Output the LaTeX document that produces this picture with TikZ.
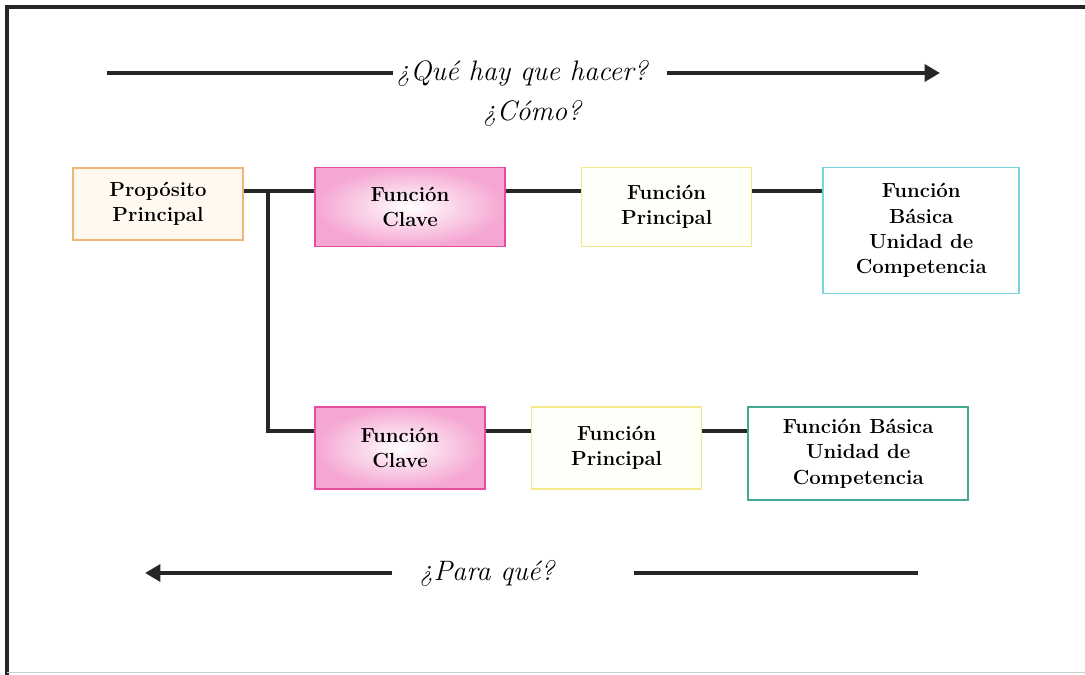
\documentclass[tikz,border=0pt]{standalone}
\usepackage{tikz}
\usepackage{xcolor}
\usetikzlibrary{positioning,arrows.meta}

\definecolor{naranja}{HTML}{F0B577}
\definecolor{crema}{HTML}{FFF9F0}
\definecolor{fucsia}{HTML}{E64C9E}
\definecolor{rosa}{HTML}{F5A6D2}
\definecolor{amarillo}{HTML}{F3E88C}
\definecolor{celeste}{HTML}{78D6E0}
\definecolor{verdeagua}{HTML}{45A893}

\begin{document}
\begin{tikzpicture}[x=0.025cm, y=-0.025cm]
  \tikzset{
    caja/.style={draw, rectangle, line width=1.1pt, align=center, inner sep=0pt, font=\fontsize{14.5}{18}\selectfont\bfseries},
    proposito/.style={caja, draw=naranja, fill=crema, minimum width=4.25cm, minimum height=1.8cm},
    clave/.style={caja, draw=fucsia, inner color=white, outer color=rosa, minimum width=4.25cm, minimum height=2.05cm},
    principal/.style={caja, draw=amarillo, fill=yellow!2, minimum width=4.25cm, minimum height=2.05cm},
    basica/.style={caja, draw=celeste, fill=white, minimum width=4.9cm, minimum height=3.15cm},
    enlace/.style={line width=2.2pt, black!85},
    linea/.style={line width=3pt, black!85},
    flecha/.style={linea, -{Triangle[length=11pt, width=12pt]}},
    pregunta/.style={font=\fontsize{20}{24}\selectfont\itshape, inner sep=2pt}
  }
  \useasboundingbox (0,0) rectangle (1085,675);

  % marco
  \draw[line width=3pt, black!85] (7,675) -- (7,7) -- (1085,7);
  \draw[line width=0.6pt, black!20] (7,672) -- (1085,672);

  % fila superior
  \node[proposito] (prop) at (158,204) {Propósito\\Principal};
  \node[clave, minimum width=4.75cm, minimum height=1.975cm] (clave1) at (410,207) {Función\\Clave};
  \node[principal, minimum height=1.975cm, right=1.875cm of clave1] (princ1) {Función\\Principal};
  \node[basica, below right=0cm and 1.75cm of princ1.north east] (basica1) {Función\\Básica\\Unidad de\\Competencia};

  % fila inferior
  \node[clave] (clave2) at (400,448) {Función\\Clave};
  \node[principal, right=1.125cm of clave2] (princ2) {Función\\Principal};
  \node[basica, draw=verdeagua, minimum width=5.5cm, minimum height=2.325cm, below right=0cm and 1.125cm of princ2.north east] (basica2) {Función Básica\\Unidad de\\Competencia};

  \coordinate (f1) at (0,191);
  \coordinate (f2) at (0,431);
  \coordinate (nudo) at (268,191);

  \draw[enlace] (prop.east |- f1) -- (clave1.west |- f1);
  \draw[enlace] (clave1.east |- f1) -- (princ1.west |- f1);
  \draw[enlace] (princ1.east |- f1) -- (basica1.west |- f1);
  \draw[enlace] (nudo) |- (clave2.west |- f2);
  \draw[enlace] (clave2.east |- f2) -- (princ2.west |- f2);
  \draw[enlace] (princ2.east |- f2) -- (basica2.west |- f2);

  % preguntas
  \node[pregunta] (que) at (522,73) {¿Qué hay que hacer?};
  \node[pregunta] (como) at (532,113) {¿Cómo?};
  \node[pregunta] (para) at (487,573) {¿Para qué?};

  \coordinate (ini) at (107,73);
  \coordinate (fin) at (940,73);
  \coordinate (izq) at (145,573);
  \coordinate (der) at (918,573);

  \draw[linea] (ini) -- (que.west);
  \draw[flecha, shorten <=0.4cm] (que.east) -- (fin);
  \draw[flecha, shorten <=0.6cm] (para.west) -- (izq);
  \draw[linea, shorten <=1.9cm] (para.east) -- (der);
\end{tikzpicture}
\end{document}
